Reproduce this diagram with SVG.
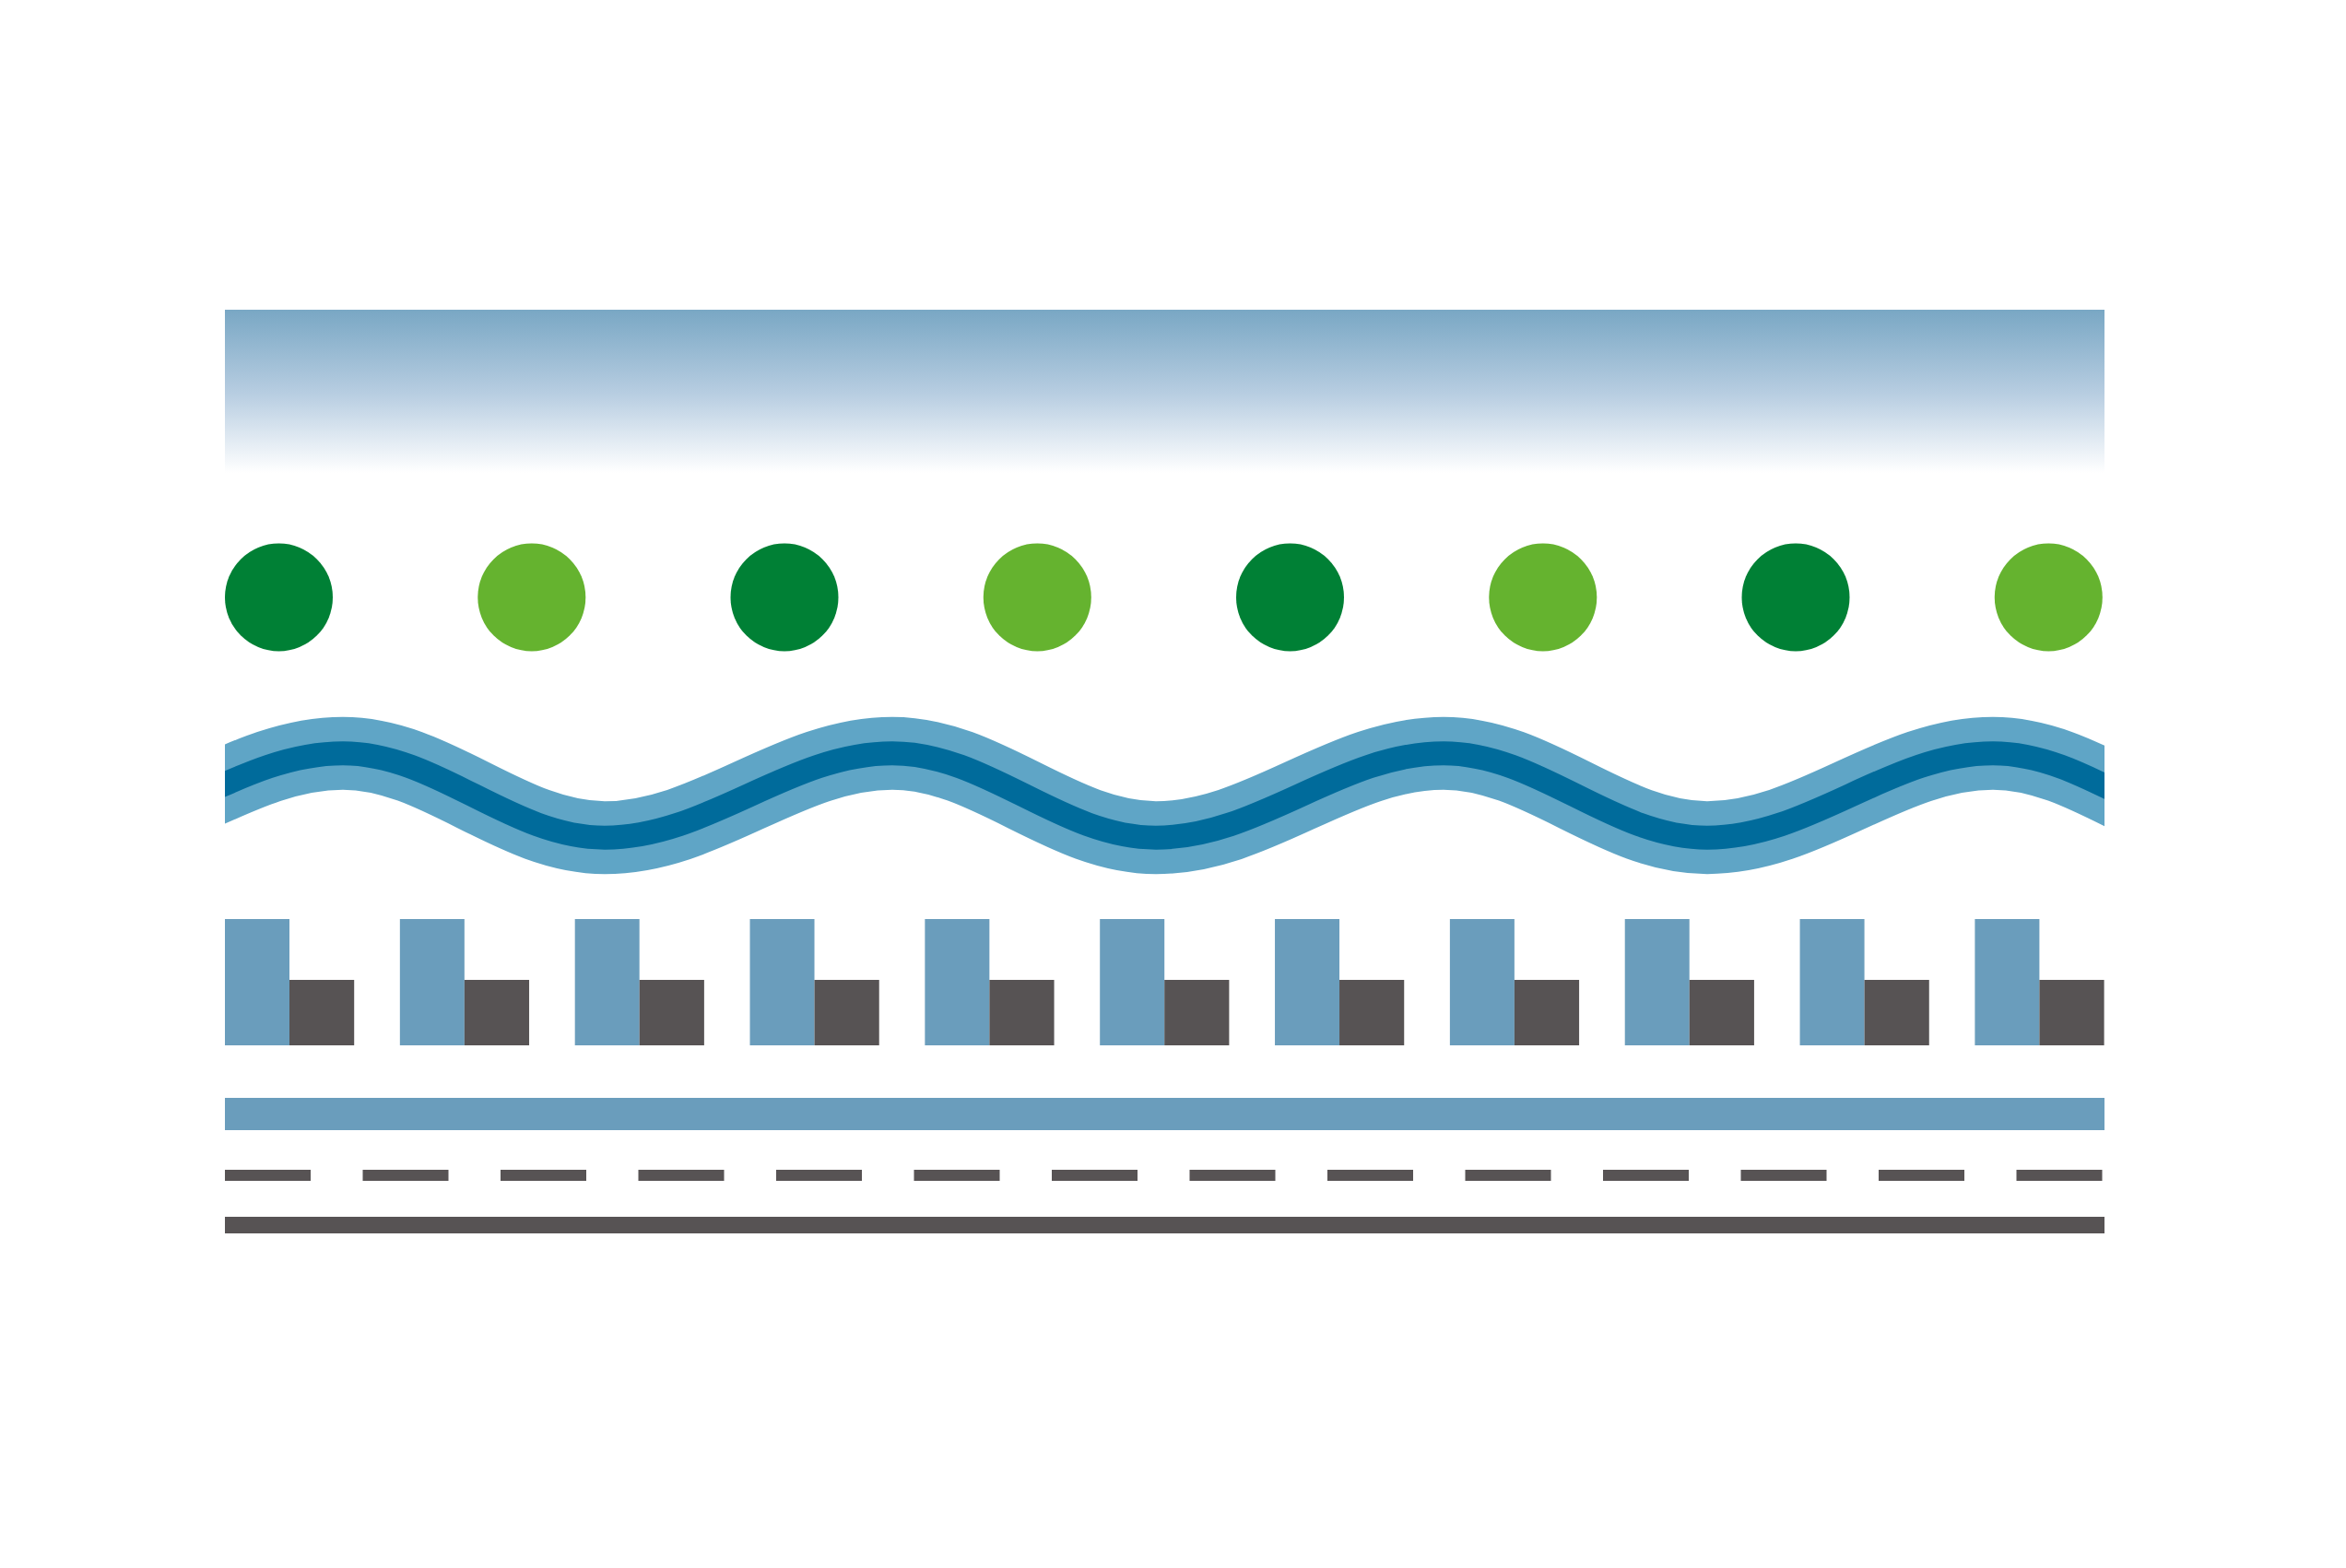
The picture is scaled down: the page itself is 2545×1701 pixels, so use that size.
<svg xmlns="http://www.w3.org/2000/svg" width="2545" height="1701" viewBox="0 0 2545 1701">
<defs>
<linearGradient id="sky" x1="0" y1="0" x2="0" y2="1">
<stop offset="0" stop-color="#79a7c4"/>
<stop offset="0.45" stop-color="#b7cde1"/>
<stop offset="0.88" stop-color="#ffffff"/>
</linearGradient>
<clipPath id="waveClip"><rect x="244" y="700" width="2039" height="300"/></clipPath>
<path id="wavePath" d="M 60 908.7 C 172.3 908.7 259.7 817.2 372 817.2 C 474.2 817.2 553.8 908.7 656 908.7 C 768.3 908.7 855.7 817.2 968 817.2 C 1071 817.2 1151 908.7 1254 908.7 C 1366.3 908.7 1453.7 817.2 1566 817.2 C 1669 817.2 1749 908.7 1852 908.7 C 1963.6 908.7 2050.4 817.2 2162 817.2 C 2264.6 817.2 2344.4 908.7 2447 908.7"/>
<g id="bar">
<rect x="0" y="997" width="70" height="137" class="blue"/>
<rect x="70" y="1063" width="70.2" height="71" class="dark"/>
</g>
<rect id="dash" x="0" y="1269" width="93" height="12" class="dark"/>
</defs>
<style>
.dg{fill:#008035}
.lg{fill:#65b32f}
.blue{fill:#6a9dbc}
.dark{fill:#575354}
.wl{fill:none;stroke:#5fa5c6;stroke-width:79}
.wd{fill:none;stroke:#006b9b;stroke-width:26}
</style>
<rect width="2545" height="1701" fill="#ffffff"/>
<g id="sky-band">
<rect x="244" y="336" width="2039" height="201" fill="url(#sky)"/>
</g>
<g id="dots">
<circle cx="302.5" cy="648" r="58.5" class="dg"/>
<circle cx="576.8" cy="648" r="58.5" class="lg"/>
<circle cx="851" cy="648" r="58.5" class="dg"/>
<circle cx="1125.3" cy="648" r="58.5" class="lg"/>
<circle cx="1399.5" cy="648" r="58.5" class="dg"/>
<circle cx="1673.8" cy="648" r="58.5" class="lg"/>
<circle cx="1948" cy="648" r="58.5" class="dg"/>
<circle cx="2222.3" cy="648" r="58.5" class="lg"/>
</g>
<g id="wave" clip-path="url(#waveClip)">
<use href="#wavePath" class="wl"/>
<use href="#wavePath" class="wd"/>
</g>
<g id="bars">
<use href="#bar" x="244"/>
<use href="#bar" x="433.84"/>
<use href="#bar" x="623.68"/>
<use href="#bar" x="813.52"/>
<use href="#bar" x="1003.36"/>
<use href="#bar" x="1193.2"/>
<use href="#bar" x="1383.04"/>
<use href="#bar" x="1572.88"/>
<use href="#bar" x="1762.72"/>
<use href="#bar" x="1952.56"/>
<use href="#bar" x="2142.4"/>
</g>
<g id="blue-line">
<rect x="244" y="1191" width="2039" height="35" class="blue"/>
</g>
<g id="dashes">
<use href="#dash" x="244"/>
<use href="#dash" x="393.5"/>
<use href="#dash" x="543"/>
<use href="#dash" x="692.5"/>
<use href="#dash" x="842"/>
<use href="#dash" x="991.5"/>
<use href="#dash" x="1141"/>
<use href="#dash" x="1290.5"/>
<use href="#dash" x="1440"/>
<use href="#dash" x="1589.5"/>
<use href="#dash" x="1739"/>
<use href="#dash" x="1888.5"/>
<use href="#dash" x="2038"/>
<use href="#dash" x="2187.5"/>
</g>
<g id="dark-line">
<rect x="244" y="1320" width="2039" height="18" class="dark"/>
</g>
</svg>
